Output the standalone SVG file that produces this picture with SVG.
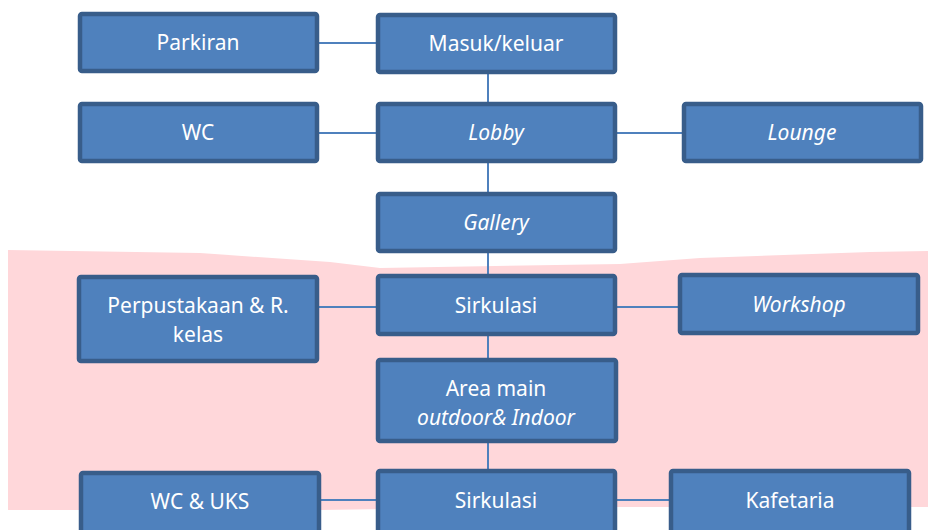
<svg xmlns="http://www.w3.org/2000/svg" width="928" height="530" viewBox="0 0 928 530">
<style>
.box{fill:#4f81bd;stroke:#385d8a;stroke-width:4.5}
.t{font-family:"Noto Sans","Open Sans",sans-serif;font-size:21px;fill:#ffffff;text-anchor:middle}
.i{font-style:italic}
.c{stroke:#4f81bd;stroke-width:2;fill:none}
</style>
<rect width="928" height="530" fill="#ffffff"/>
<path d="M8,250 L200,253 L330,262 L380,268 L620,264 L700,258 L870,252 L928,251 L928,507 L520,507 L320,510 L8,510 Z" fill="#ffd7da"/>
<g id="connectors">
<line class="c" x1="318" y1="43" x2="378" y2="43"/>
<line class="c" x1="488" y1="73" x2="488" y2="104"/>
<line class="c" x1="318" y1="133" x2="378" y2="133"/>
<line class="c" x1="614" y1="133" x2="684" y2="133"/>
<line class="c" x1="488" y1="162" x2="488" y2="194"/>
<line class="c" x1="488" y1="252" x2="488" y2="276"/>
<line class="c" x1="318" y1="307" x2="378" y2="307"/>
<line class="c" x1="614" y1="307" x2="680" y2="307"/>
<line class="c" x1="488" y1="335" x2="488" y2="360"/>
<line class="c" x1="488" y1="442" x2="488" y2="471"/>
<line class="c" x1="320" y1="500" x2="378" y2="500"/>
<line class="c" x1="615" y1="500" x2="671" y2="500"/>
</g>
<g id="parkiran"><rect class="box" x="80" y="14" width="237" height="57" rx="2"/><text class="t" x="198" y="50">Parkiran</text></g>
<g id="masuk"><rect class="box" x="378" y="15" width="237" height="57" rx="2"/><text class="t" x="496" y="51">Masuk/keluar</text></g>
<g id="wc"><rect class="box" x="80" y="104" width="237" height="57" rx="2"/><text class="t" x="198" y="140">WC</text></g>
<g id="lobby"><rect class="box" x="378" y="104" width="237" height="57" rx="2"/><text class="t i" x="496" y="140">Lobby</text></g>
<g id="lounge"><rect class="box" x="684" y="104" width="237" height="57" rx="2"/><text class="t i" x="802" y="140">Lounge</text></g>
<g id="gallery"><rect class="box" x="378" y="194" width="237" height="57" rx="2"/><text class="t i" x="496" y="230">Gallery</text></g>
<g id="perpustakaan"><rect class="box" x="79" y="277" width="238" height="84" rx="2"/><text class="t" x="198" y="313">Perpustakaan &amp; R.</text><text class="t" x="198" y="342">kelas</text></g>
<g id="sirkulasi1"><rect class="box" x="378" y="276" width="237" height="58" rx="2"/><text class="t" x="496" y="313">Sirkulasi</text></g>
<g id="workshop"><rect class="box" x="680" y="275" width="238" height="58" rx="2"/><text class="t i" x="799" y="312">Workshop</text></g>
<g id="areamain"><rect class="box" x="378" y="360" width="238" height="81" rx="2"/><text class="t" x="496" y="396">Area main</text><text class="t i" x="496" y="425">outdoor&amp; Indoor</text></g>
<g id="wcuks"><rect class="box" x="81" y="473" width="238" height="62" rx="2"/><text class="t" x="200" y="509">WC &amp; UKS</text></g>
<g id="sirkulasi2"><rect class="box" x="378" y="471" width="237" height="64" rx="2"/><text class="t" x="496" y="508">Sirkulasi</text></g>
<g id="kafetaria"><rect class="box" x="671" y="471" width="238" height="64" rx="2"/><text class="t" x="790" y="508">Kafetaria</text></g>
</svg>
